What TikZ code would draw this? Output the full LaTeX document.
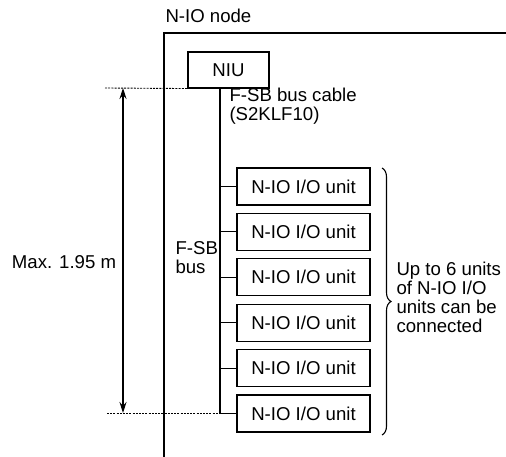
\documentclass[tikz,border=0pt]{standalone}
\usepackage{fontspec}
\setmainfont{Liberation Sans}
\usepackage{tikz}
\usetikzlibrary{calc}
\usetikzlibrary{arrows.meta}
\usetikzlibrary{decorations}
\usetikzlibrary{decorations.pathreplacing}

\tikzset{
  unitbox/.style={draw, line width=1.1bp, minimum width=133bp, minimum height=37bp, inner sep=0pt},
  dimline/.style={line width=0.9bp, dash pattern=on 2bp off 1.2bp},
  lbl/.style={inner sep=0pt, align=left}
}

\begin{document}
\begin{tikzpicture}
  [
    x=1bp, y=-1bp,
    line width=1.1bp,
    font=\fontsize{18.6bp}{19bp}\selectfont
  ]
    \path[use as bounding box] (0,0) rectangle (506,457);
    % node frame
    \draw[line width=1.6bp] (164,457) -- (164,33) -- (506,33);
    \node[lbl, anchor=west] (nodelbl) at (165,16) {N-IO node};

    \node[unitbox, minimum width=81bp, minimum height=36bp] (niu) at (228.5,70) {NIU};

    % bus line and the I/O units hanging off it
    \coordinate (bustop) at (220,88);
    \coordinate (busend) at (220,413);
    \draw (bustop) -- (busend);
    \foreach \i in {1,...,6}
    {
      \node[unitbox] (u\i) at (303.5,{186.5+(\i-1)*45.4}) {N-IO I/O unit};
      \draw (bustop |- u\i.west) -- (u\i.west);
    }

    \node[lbl, anchor=west] (cable) at (229,106.5) {F-SB bus cable\\(S2KLF10)};
    \node[lbl, anchor=west] (buslbl) at (175,258) {F-SB\\bus};

    % length limit
    \coordinate (dimtop) at (105,88);
    \coordinate (dimbot) at (107,413);
    \draw[dimline] (dimtop) -- (niu.south west);
    \draw[dimline] (dimbot) -- (busend);
    \coordinate (arrtop) at (123,88);
    \coordinate (arrbot) at (123,413);
    \draw[{Stealth[length=11bp,width=7bp]}-{Stealth[length=11bp,width=7bp]}] (arrtop) -- (arrbot);
    \node[lbl] (maxlbl) at (64,262) {Max. 1.95 m};

    %\draw (u1.north east) -- (u6.south east);
    \coordinate (bracetop) at (382,168);
    \coordinate (bracebot) at (382,435);
    \draw[decorate, decoration={brace, amplitude=9bp}] (bracetop) -- (bracebot);
    \node[lbl, anchor=west] (note) at (396,297) {Up to 6 units\\of N-IO I/O\\units can be\\connected};
  \end{tikzpicture}
\end{document}
